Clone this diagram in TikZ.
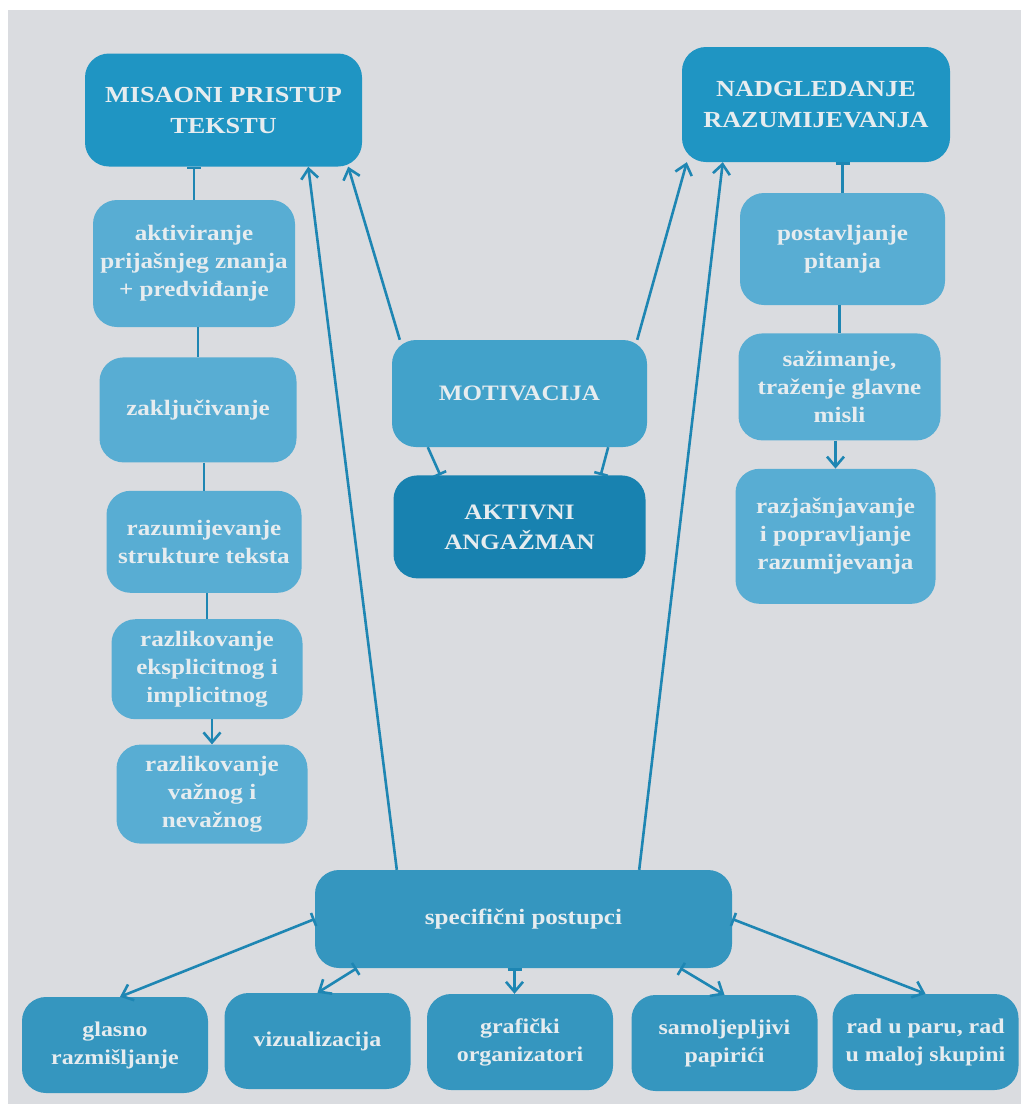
\documentclass[tikz,border=0pt]{standalone}
\usepackage{fontspec}
\setmainfont{Liberation Serif}[FakeStretch=1.14]
\usepackage{tikz}
\usetikzlibrary{positioning,arrows.meta}
\definecolor{paperbg}{HTML}{DADCE0}
\definecolor{mainblue}{HTML}{1F95C3}
\definecolor{deepblue}{HTML}{1882B0}
\definecolor{midblue}{HTML}{42A2CA}
\definecolor{lightblue}{HTML}{58ADD3}
\definecolor{toolblue}{HTML}{3596BF}
\definecolor{linkblue}{HTML}{1E86B3}
\definecolor{textfg}{HTML}{E6ECEF}

\begin{document}
\begin{tikzpicture}[
      x=1pt, y=-1pt,
      node distance=28pt,
      box/.style={rounded corners=24pt,align=center,text=textfg,inner sep=0pt,font=\bfseries\fontsize{22}{28}\selectfont},
      head/.style={box,fill=mainblue,font=\bfseries\fontsize{23}{31}\selectfont},
      core/.style={box,font=\bfseries\fontsize{22}{30}\selectfont},
      sub/.style={box,fill=lightblue},
      tool/.style={box,fill=toolblue,minimum width=186pt,minimum height=96pt,font=\bfseries\fontsize{21}{28}\selectfont},
      link/.style={line width=2.6pt,draw=linkblue},
      arr/.style={link,-{Straight Barb[length=10pt,width=17pt]}},
      tee/.style={link,-{Bar[width=14pt]}},
      barr/.style={link,{Bar[width=14pt]}-{Straight Barb[length=10pt,width=17pt]}}
    ]
    \useasboundingbox (0,0) rectangle (1021,1104);
    \fill[white] (0,0) rectangle (1021,1104);
    \fill[paperbg] (8,10) rectangle (1021,1104);

    \node[head,minimum width=277pt,minimum height=113pt] (mis) at (223.5,110) {MISAONI PRISTUP\\TEKSTU};
    \node[head,minimum width=268pt,minimum height=115pt] (nad) at (816,104.5) {NADGLEDANJE\\RAZUMIJEVANJA};

    \node[sub,minimum width=202pt,minimum height=127pt] (akt) at (194,263.5) {aktiviranje\\prijašnjeg znanja\\+ predviđanje};
    \node[sub,minimum width=197pt,minimum height=105pt,below=30pt of akt,xshift=4pt] (zak) {zaključivanje};
    \node[sub,minimum width=195pt,minimum height=102pt,below=28pt of zak,xshift=6pt] (raz) {razumijevanje\\strukture teksta};
    \node[sub,minimum width=191pt,minimum height=100pt,below=26pt of raz,xshift=3pt] (eks) {razlikovanje\\eksplicitnog i\\implicitnog};
    \node[sub,minimum width=191pt,minimum height=99pt,below=25pt of eks,xshift=5pt] (vaz) {razlikovanje\\važnog i\\nevažnog};

    \node[sub,minimum width=205pt,minimum height=112pt] (pos) at (842.5,249) {postavljanje\\pitanja};
    \node[sub,minimum width=202pt,minimum height=107pt,below=28pt of pos,xshift=-3pt] (saz) {sažimanje,\\traženje glavne\\misli};
    \node[sub,minimum width=200pt,minimum height=135pt,below=28pt of saz,xshift=-4pt] (raj) {razjašnjavanje\\i popravljanje\\razumijevanja};

    \node[core,fill=midblue,minimum width=255pt,minimum height=107pt] (mot) at (519.5,393.5) {MOTIVACIJA};
    \node[core,fill=deepblue,minimum width=252pt,minimum height=103pt,below=28pt of mot] (ang) {AKTIVNI\\ANGAŽMAN};

    \node[box,fill=toolblue,minimum width=417pt,minimum height=98pt] (spe) at (523.5,919) {specifični postupci};

    \node[tool] (gla) at (115,1045) {glasno\\razmišljanje};
    \node[tool] (viz) at (317.5,1041) {vizualizacija};
    \node[tool] (gra) at (520,1042) {grafički\\organizatori};
    \node[tool] (sam) at (724.5,1043) {samoljepljivi\\papirići};
    \node[tool] (rad) at (925.5,1042) {rad u paru, rad\\u maloj skupini};

    % left column
    \draw[tee] (akt.north) -- (akt.north |- mis.south);
    \draw[link] (zak.north |- akt.south) -- (zak.north);
    \draw[link] (raz.north |- zak.south) -- (raz.north);
    \draw[link] (eks.north |- raz.south) -- (eks.north);
    \draw[arr] (vaz.north |- eks.south) -- (vaz.north);

    % right column
    \draw[tee] (pos.north) -- (pos.north |- nad.south);
    \draw[link] (saz.north |- pos.south) -- (saz.north);
    \draw[arr] (raj.north |- saz.south) -- (raj.north);

    % middle
    \draw[arr] ([xshift=8pt]mot.north west) -- ([xshift=-14pt]mis.south east);
    \draw[arr] ([xshift=-10pt]mot.north east) -- ([xshift=5pt]nad.south west);
    \draw[tee] ([xshift=36pt]mot.south west) -- ([xshift=47pt]ang.north west);
    \draw[tee] ([xshift=-39pt]mot.south east) -- ([xshift=-45pt]ang.north east);
    \draw[arr] ([xshift=82pt]spe.north west) -- ([xshift=-54pt]mis.south east);
    \draw[arr] ([xshift=-93pt]spe.north east) -- ([xshift=41pt]nad.south west);

    % bottom row
    \draw[barr] (spe.west) -- ([xshift=5pt]gla.north);
    \draw[barr] ([xshift=42pt]spe.south west) -- (viz.north);
    \draw[barr] ([xshift=-9pt]spe.south) -- ([xshift=-9pt]spe.south |- gra.north);
    \draw[barr] ([xshift=-52pt]spe.south east) -- (sam.north);
    \draw[barr] (spe.east) -- (rad.north);
  \end{tikzpicture}
\end{document}
